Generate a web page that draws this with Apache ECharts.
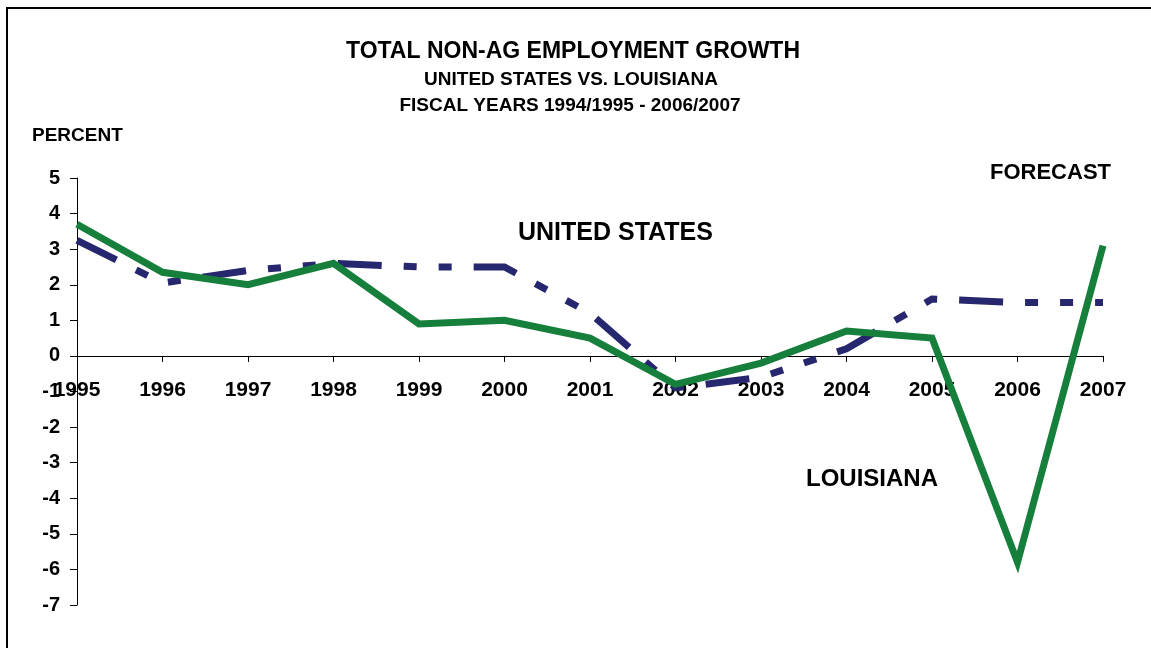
<!DOCTYPE html>
<html>
<head>
<meta charset="utf-8">
<script src="https://cdn.jsdelivr.net/npm/echarts@6/dist/echarts.min.js"></script>
<style>
  html, body { margin: 0; padding: 0; background: #fff; }
  #chart { width: 1151px; height: 648px; }
</style>
</head>
<body>
<div id="chart"></div>
<script>
// Fiscal years (ending year) and annual non-farm employment growth, percent
const years = ['1995', '1996', '1997', '1998', '1999', '2000', '2001', '2002', '2003', '2004', '2005', '2006', '2007'];
const unitedStates = [3.25, 2.05, 2.4, 2.6, 2.5, 2.5, 1.2, -0.9, -0.6, 0.2, 1.6, 1.5, 1.5];
const louisiana = [3.7, 2.35, 2.0, 2.6, 0.9, 1.0, 0.5, -0.8, -0.2, 0.7, 0.5, -5.8, 3.1];
const yTicks = { min: -7, max: 5, step: 1 };

const FONT = '"Liberation Sans", Arial, sans-serif';
const GRID = { left: 77, right: 48, top: 178, bottom: 43 };
const chart = echarts.init(document.getElementById('chart'));

// the category axis sits on the zero line of the value axis
const plotHeight = 648 - GRID.top - GRID.bottom;
const zeroOffset = -plotHeight * (0 - yTicks.min) / (yTicks.max - yTicks.min);

chart.setOption({
  backgroundColor: '#fff',
  animation: false,
  grid: Object.assign({ containLabel: false }, GRID),
  xAxis: {
    type: 'category',
    data: years,
    boundaryGap: false,
    position: 'bottom',
    offset: zeroOffset,
    axisLine: { onZero: false, lineStyle: { color: '#000', width: 1 } },
    axisTick: { show: true, length: 6, lineStyle: { color: '#000' } },
    axisLabel: {
      margin: 24, color: '#000', fontFamily: FONT, fontWeight: 'bold', fontSize: 21,
      interval: 0
    },
    splitLine: { show: false }
  },
  yAxis: {
    type: 'value',
    min: yTicks.min, max: yTicks.max, interval: yTicks.step,
    axisLine: { show: true, onZero: false, lineStyle: { color: '#000', width: 1 } },
    axisTick: { show: true, length: 7, lineStyle: { color: '#000' } },
    axisLabel: {
      margin: 17, color: '#000', fontFamily: FONT, fontWeight: 'bold', fontSize: 20
    },
    splitLine: { show: false }
  },
  series: [
    {
      name: 'UNITED STATES',
      type: 'line',
      data: unitedStates,
      showSymbol: false,
      z: 2,
      lineStyle: { color: '#26276f', width: 7, type: [44, 22, 13, 22, 13, 22], cap: 'butt', join: 'miter' }
    },
    {
      name: 'LOUISIANA',
      type: 'line',
      data: louisiana,
      showSymbol: false,
      z: 3,
      lineStyle: { color: '#157f3b', width: 7, cap: 'butt', join: 'miter' }
    }
  ],
  graphic: [
    // outer frame
    { type: 'rect', shape: { x: 7, y: 8, width: 1160, height: 660 }, style: { fill: 'none', stroke: '#000', lineWidth: 2 }, silent: true },
    { type: 'text', x: 573, y: 52, style: { text: 'TOTAL NON-AG EMPLOYMENT GROWTH', font: 'bold 23px ' + FONT, fill: '#000', align: 'center', verticalAlign: 'middle' } },
    { type: 'text', x: 571, y: 80, style: { text: 'UNITED STATES VS. LOUISIANA', font: 'bold 19px ' + FONT, fill: '#000', align: 'center', verticalAlign: 'middle' } },
    { type: 'text', x: 570, y: 106, style: { text: 'FISCAL YEARS 1994/1995 - 2006/2007', font: 'bold 19px ' + FONT, fill: '#000', align: 'center', verticalAlign: 'middle' } },
    { type: 'text', x: 32, y: 136, style: { text: 'PERCENT', font: 'bold 19px ' + FONT, fill: '#000', verticalAlign: 'middle' } },
    { type: 'text', x: 990, y: 173, style: { text: 'FORECAST', font: 'bold 22px ' + FONT, fill: '#000', verticalAlign: 'middle' } },
    { type: 'text', x: 518, y: 233, style: { text: 'UNITED STATES', font: 'bold 25px ' + FONT, fill: '#000', verticalAlign: 'middle' } },
    { type: 'text', x: 806, y: 479, style: { text: 'LOUISIANA', font: 'bold 24px ' + FONT, fill: '#000', verticalAlign: 'middle' } }
  ]
});
</script>
</body>
</html>
